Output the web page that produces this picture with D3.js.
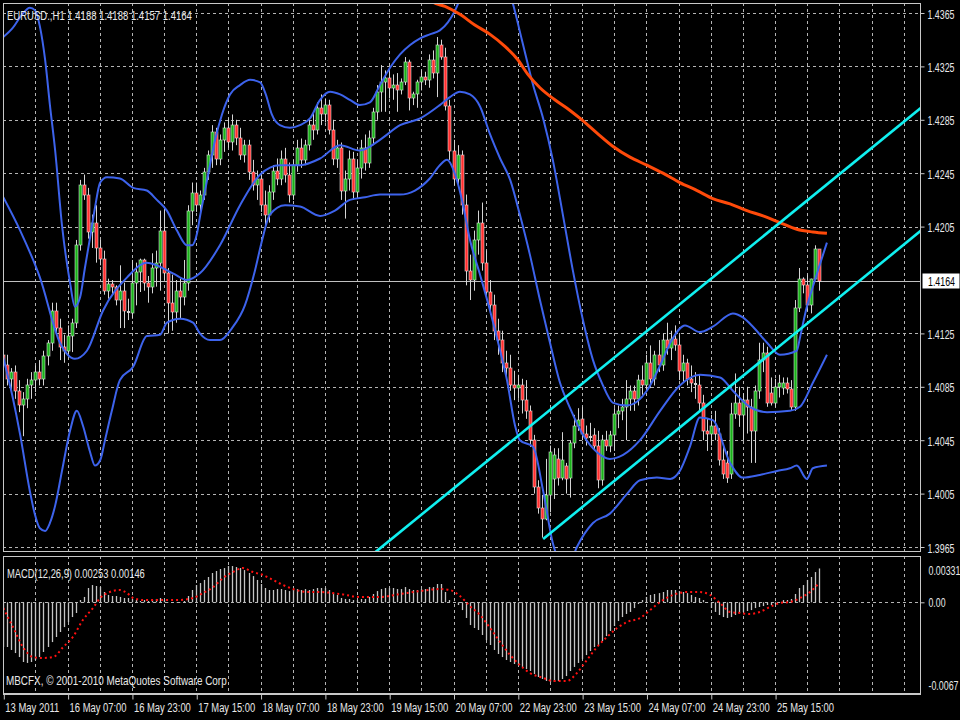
<!DOCTYPE html>
<html><head><meta charset="utf-8">
<script src="https://cdn.jsdelivr.net/npm/d3@7"></script>
<style>html,body{margin:0;padding:0;background:#000;}svg{display:block;}</style>
</head><body>
<svg id="c" width="960" height="720"></svg>
<script>
// ---------------- DATA ----------------
const symbolTitle = "EURUSD.,H1  1.4188 1.4188 1.4157 1.4164";
const macdTitle = "MACD(12,26,9) 0.00253 0.00146";
const copyright = "MBCFX, \u00A9 2001-2010 MetaQuotes Software Corp";
const timeLabels = ["13 May 2011","16 May 07:00","16 May 23:00","17 May 15:00","18 May 07:00","18 May 23:00","19 May 15:00","20 May 07:00","22 May 23:00","23 May 15:00","24 May 07:00","24 May 23:00","25 May 15:00"];
const priceTicks = [1.4365,1.4325,1.4285,1.4245,1.4205,1.4125,1.4085,1.4045,1.4005,1.3965];
const bidPrice = 1.4164;
const macdTicks = [0.00331, 0, -0.0067];
const macdTickLabels = ["0.00331","0.00","-0.0067"];

// [open, high, low, close] per H1 bar
const candles = [
[1.4109,1.4116,1.4096,1.4101],[1.4101,1.4109,1.4086,1.4091],[1.4091,1.4099,1.4081,1.4096],[1.4096,1.4101,1.4076,1.4082],
[1.4082,1.4090,1.4066,1.4071],[1.4071,1.4081,1.4048,1.4076],[1.4076,1.4091,1.4069,1.4086],[1.4086,1.4096,1.4076,1.4090],
[1.4090,1.4101,1.4081,1.4096],[1.4096,1.4105,1.4086,1.4091],[1.4091,1.4112,1.4086,1.4108],[1.4108,1.4120,1.4101,1.4118],
[1.4118,1.4148,1.4112,1.4142],[1.4142,1.4148,1.4124,1.4129],[1.4129,1.4136,1.4105,1.4115],[1.4115,1.4124,1.4103,1.4112],
[1.4112,1.4131,1.4108,1.4123],[1.4123,1.4136,1.4111,1.4133],[1.4133,1.4195,1.4129,1.4191],[1.4191,1.4240,1.4187,1.4236],
[1.4236,1.4244,1.4225,1.4229],[1.4229,1.4234,1.4196,1.4201],[1.4201,1.4214,1.4189,1.4208],[1.4208,1.4221,1.4178,1.4189],
[1.4189,1.4195,1.4176,1.4181],[1.4181,1.4187,1.4154,1.4157],[1.4157,1.4166,1.4151,1.4162],[1.4162,1.4165,1.4154,1.4160],
[1.4160,1.4161,1.4146,1.4150],[1.4150,1.4176,1.4129,1.4157],[1.4157,1.4163,1.4129,1.4142],[1.4142,1.4151,1.4135,1.4140],
[1.4140,1.4180,1.4136,1.4163],[1.4163,1.4178,1.4146,1.4171],[1.4171,1.4181,1.4156,1.4180],[1.4180,1.4181,1.4157,1.4163],
[1.4163,1.4168,1.4148,1.4160],[1.4160,1.4185,1.4155,1.4174],[1.4174,1.4187,1.4160,1.4178],[1.4178,1.4217,1.4157,1.4202],
[1.4202,1.4220,1.4165,1.4170],[1.4170,1.4174,1.4125,1.4148],[1.4148,1.4169,1.4127,1.4141],[1.4141,1.4165,1.4133,1.4157],
[1.4157,1.4166,1.4136,1.4152],[1.4152,1.4180,1.4146,1.4163],[1.4163,1.4221,1.4157,1.4217],[1.4217,1.4238,1.4206,1.4230],
[1.4230,1.4238,1.4216,1.4221],[1.4221,1.4232,1.4216,1.4229],[1.4229,1.4249,1.4225,1.4246],[1.4246,1.4262,1.4240,1.4259],
[1.4259,1.4281,1.4249,1.4276],[1.4276,1.4279,1.4251,1.4256],[1.4256,1.4274,1.4251,1.4270],[1.4270,1.4283,1.4261,1.4279],
[1.4279,1.4286,1.4264,1.4268],[1.4268,1.4289,1.4262,1.4281],[1.4281,1.4285,1.4266,1.4271],[1.4271,1.4279,1.4255,1.4259],
[1.4259,1.4270,1.4253,1.4266],[1.4266,1.4270,1.4240,1.4246],[1.4246,1.4255,1.4232,1.4236],[1.4236,1.4247,1.4225,1.4241],
[1.4241,1.4246,1.4216,1.4221],[1.4221,1.4232,1.4204,1.4214],[1.4214,1.4236,1.4208,1.4231],[1.4231,1.4251,1.4225,1.4247],
[1.4247,1.4256,1.4236,1.4241],[1.4241,1.4262,1.4236,1.4256],[1.4256,1.4264,1.4238,1.4244],[1.4244,1.4253,1.4223,1.4229],
[1.4229,1.4255,1.4225,1.4251],[1.4251,1.4270,1.4246,1.4264],[1.4264,1.4271,1.4249,1.4255],[1.4255,1.4270,1.4251,1.4266],
[1.4266,1.4286,1.4262,1.4281],[1.4281,1.4291,1.4270,1.4277],[1.4277,1.4298,1.4274,1.4294],[1.4294,1.4304,1.4281,1.4289],
[1.4289,1.4301,1.4283,1.4296],[1.4296,1.4300,1.4274,1.4277],[1.4277,1.4285,1.4251,1.4256],[1.4256,1.4270,1.4249,1.4264],
[1.4264,1.4268,1.4225,1.4232],[1.4232,1.4247,1.4211,1.4241],[1.4241,1.4262,1.4232,1.4256],[1.4256,1.4261,1.4225,1.4231],
[1.4231,1.4255,1.4226,1.4249],[1.4249,1.4270,1.4241,1.4264],[1.4264,1.4274,1.4247,1.4253],[1.4253,1.4277,1.4249,1.4271],
[1.4271,1.4294,1.4266,1.4291],[1.4291,1.4311,1.4285,1.4306],[1.4306,1.4326,1.4291,1.4313],[1.4313,1.4322,1.4291,1.4316],
[1.4316,1.4321,1.4301,1.4309],[1.4309,1.4319,1.4300,1.4311],[1.4311,1.4320,1.4291,1.4307],[1.4307,1.4316,1.4304,1.4313],
[1.4313,1.4332,1.4311,1.4328],[1.4328,1.4330,1.4292,1.4301],[1.4301,1.4306,1.4296,1.4304],[1.4304,1.4315,1.4294,1.4313],
[1.4313,1.4322,1.4307,1.4317],[1.4317,1.4321,1.4311,1.4315],[1.4315,1.4334,1.4309,1.4330],[1.4330,1.4337,1.4316,1.4320],
[1.4320,1.4347,1.4302,1.4341],[1.4341,1.4345,1.4330,1.4332],[1.4332,1.4339,1.4292,1.4295],[1.4295,1.4300,1.4255,1.4262],
[1.4262,1.4270,1.4236,1.4241],[1.4241,1.4266,1.4236,1.4259],[1.4259,1.4262,1.4214,1.4221],[1.4221,1.4229,1.4161,1.4172],
[1.4172,1.4184,1.4150,1.4165],[1.4165,1.4202,1.4157,1.4195],[1.4195,1.4217,1.4184,1.4208],[1.4208,1.4223,1.4172,1.4178],
[1.4178,1.4187,1.4150,1.4156],[1.4156,1.4165,1.4139,1.4146],[1.4146,1.4154,1.4120,1.4127],[1.4127,1.4136,1.4109,1.4120],
[1.4120,1.4127,1.4096,1.4103],[1.4103,1.4112,1.4090,1.4099],[1.4099,1.4109,1.4082,1.4086],[1.4086,1.4097,1.4075,1.4084],
[1.4084,1.4094,1.4076,1.4086],[1.4086,1.4091,1.4065,1.4075],[1.4075,1.4090,1.4061,1.4067],[1.4067,1.4071,1.4040,1.4045],
[1.4045,1.4049,1.4005,1.4010],[1.4010,1.4015,1.3990,1.3994],[1.3994,1.4004,1.3972,1.3986],[1.3986,1.4031,1.3985,1.4004],
[1.4004,1.4041,1.3991,1.4036],[1.4016,1.4039,1.4001,1.4034],[1.4031,1.4039,1.4011,1.4017],[1.4017,1.4051,1.4015,1.4030],
[1.4026,1.4028,1.4005,1.4016],[1.4017,1.4045,1.4002,1.4043],[1.4043,1.4064,1.4039,1.4056],[1.4056,1.4069,1.4052,1.4060],
[1.4061,1.4070,1.4045,1.4050],[1.4050,1.4056,1.4041,1.4047],[1.4047,1.4058,1.4044,1.4048],[1.4049,1.4054,1.4037,1.4041],
[1.4041,1.4052,1.4009,1.4015],[1.4015,1.4049,1.4011,1.4045],[1.4045,1.4052,1.4037,1.4041],[1.4041,1.4052,1.4036,1.4049],
[1.4049,1.4069,1.4037,1.4065],[1.4065,1.4071,1.4054,1.4067],[1.4067,1.4076,1.4060,1.4070],[1.4070,1.4090,1.4045,1.4076],
[1.4076,1.4086,1.4067,1.4082],[1.4082,1.4086,1.4067,1.4076],[1.4076,1.4094,1.4071,1.4090],[1.4090,1.4101,1.4079,1.4086],
[1.4086,1.4109,1.4081,1.4103],[1.4103,1.4116,1.4084,1.4091],[1.4091,1.4112,1.4086,1.4109],[1.4109,1.4120,1.4096,1.4101],
[1.4101,1.4125,1.4097,1.4120],[1.4120,1.4133,1.4109,1.4114],[1.4114,1.4127,1.4105,1.4121],[1.4121,1.4131,1.4112,1.4116],
[1.4116,1.4124,1.4090,1.4097],[1.4097,1.4109,1.4088,1.4103],[1.4103,1.4106,1.4086,1.4091],[1.4091,1.4101,1.4081,1.4088],
[1.4088,1.4096,1.4076,1.4086],[1.4086,1.4094,1.4067,1.4073],[1.4073,1.4079,1.4045,1.4052],[1.4052,1.4061,1.4037,1.4050],
[1.4050,1.4064,1.4041,1.4056],[1.4056,1.4067,1.4045,1.4050],[1.4050,1.4054,1.4026,1.4030],[1.4030,1.4041,1.4016,1.4020],
[1.4028,1.4037,1.4013,1.4017],[1.4020,1.4073,1.4016,1.4065],[1.4065,1.4095,1.4061,1.4073],[1.4073,1.4085,1.4055,1.4064],
[1.4064,1.4080,1.4045,1.4075],[1.4075,1.4085,1.4050,1.4070],[1.4070,1.4076,1.4028,1.4052],[1.4052,1.4086,1.4028,1.4082],
[1.4082,1.4118,1.4076,1.4105],[1.4105,1.4118,1.4096,1.4110],[1.4110,1.4115,1.4070,1.4073],[1.4080,1.4092,1.4071,1.4073],
[1.4073,1.4091,1.4070,1.4085],[1.4085,1.4094,1.4077,1.4088],[1.4084,1.4092,1.4079,1.4088],[1.4088,1.4092,1.4080,1.4083],
[1.4083,1.4090,1.4067,1.4070],[1.4070,1.4150,1.4067,1.4144],[1.4144,1.4174,1.4141,1.4166],[1.4166,1.4167,1.4155,1.4161],
[1.4161,1.4169,1.4142,1.4146],[1.4146,1.4166,1.4140,1.4166],[1.4166,1.4191,1.4165,1.4188],[1.4188,1.4188,1.4157,1.4164]
];

// MACD main (histogram) per bar
const macdHist = [
-0.00334,-0.00334,-0.00356,-0.00379,-0.00409,-0.00446,-0.00453,-0.00446,-0.00431,-0.00409,
-0.00371,-0.00334,-0.00297,-0.00259,-0.00222,-0.00185,-0.00147,-0.00110,-0.00080,0.00017,
0.00040,0.00107,0.00129,0.00122,0.00114,0.00077,0.00055,0.00047,0.00047,0.00040,
0.00032,0.00032,0.00025,0.00017,0.00010,0.00017,0.00010,0.00017,0.00025,0.00032,
0.00017,0.00002,-0.00005,0.00002,0.00002,0.00010,0.00047,0.00092,0.00129,0.00144,
0.00167,0.00189,0.00219,0.00234,0.00249,0.00256,0.00271,0.00271,0.00264,0.00256,
0.00241,0.00219,0.00196,0.00167,0.00137,0.00107,0.00092,0.00092,0.00099,0.00099,
0.00092,0.00084,0.00092,0.00099,0.00092,0.00099,0.00092,0.00099,0.00107,0.00107,
0.00107,0.00092,0.00069,0.00055,0.00032,0.00025,0.00025,0.00017,0.00017,0.00025,
0.00025,0.00040,0.00062,0.00084,0.00099,0.00107,0.00107,0.00107,0.00099,0.00099,
0.00114,0.00099,0.00092,0.00092,0.00099,0.00099,0.00114,0.00114,0.00137,0.00137,
0.00077,0.00017,-0.00005,-0.00020,-0.00058,-0.00117,-0.00170,-0.00192,-0.00207,-0.00244,
-0.00282,-0.00319,-0.00356,-0.00386,-0.00409,-0.00431,-0.00446,-0.00461,-0.00468,-0.00483,
-0.00498,-0.00513,-0.00536,-0.00558,-0.00573,-0.00588,-0.00595,-0.00595,-0.00588,-0.00573,
-0.00551,-0.00513,-0.00483,-0.00453,-0.00424,-0.00394,-0.00364,-0.00334,-0.00319,-0.00289,
-0.00252,-0.00214,-0.00177,-0.00140,-0.00110,-0.00087,-0.00072,-0.00043,-0.00013,0.00017,
0.00040,0.00055,0.00062,0.00069,0.00077,0.00092,0.00092,0.00092,0.00084,0.00077,
0.00069,0.00055,0.00040,0.00032,0.00017,-0.00005,-0.00043,-0.00072,-0.00095,-0.00110,
-0.00117,-0.00110,-0.00095,-0.00080,-0.00072,-0.00065,-0.00058,-0.00043,-0.00035,-0.00028,
-0.00020,-0.00020,-0.00013,-0.00005,0.00017,0.00017,0.00025,0.00062,0.00107,0.00129,
0.00167,0.00189,0.00226,0.00253
];

// MACD signal line, read as [bar, value]
const macdSignal = [
[0,-0.00043],[2.4,-0.00185],[4.9,-0.00334],[7.4,-0.00409],[9.9,-0.00416],[12.4,-0.00409],[14.9,-0.00334],
[17.3,-0.00259],[19.8,-0.00132],[22.3,-0.00043],[24.1,0.00032],[26.5,0.00077],[29.0,0.00092],[30.8,0.00069],
[32.3,0.00032],[34.8,0.00017],[38.2,0.00017],[43.2,0.00017],[47.2,0.00032],[49.7,0.00069],[52.2,0.00114],
[54.7,0.00182],[57.1,0.00226],[59.6,0.00256],[62.1,0.00226],[64.6,0.00204],[67.1,0.00167],[69.6,0.00129],
[72.1,0.00099],[75.5,0.00077],[78.8,0.00077],[83.8,0.00062],[88.7,0.00040],[93.7,0.00040],[98.7,0.00062],
[103.7,0.00084],[108.6,0.00099],[111.1,0.00092],[113.6,0.00047],[116.1,-0.00028],[118.6,-0.00095],
[121.1,-0.00192],[123.6,-0.00297],[126.1,-0.00394],[128.5,-0.00468],[131.0,-0.00528],[134.3,-0.00565],
[136.7,-0.00588],[140.2,-0.00588],[142.7,-0.00528],[145.2,-0.00431],[147.7,-0.00334],[150.2,-0.00259],
[152.7,-0.00192],[155.2,-0.00147],[158.4,-0.00117],[160.9,-0.00058],[163.4,0.00002],[166.6,0.00055],
[170.1,0.00077],[173.3,0.00077],[175.8,0.00055],[178.3,-0.00005],[180.8,-0.00072],[183.3,-0.00080],
[185.7,-0.00087],[188.2,-0.00072],[190.7,-0.00035],[193.2,-0.00005],[195.7,0.00002],[198.2,0.00032],
[200.7,0.00077],[203,0.00146]
];

// Bollinger bands, read as [bar, price]
const bbUpper = [
[0,1.4347],[2.4,1.4354],[4.7,1.4364],[6.6,1.4369],[7.9,1.4367],[9.1,1.4355],[10.4,1.4330],[11.6,1.4296],
[12.9,1.4262],[14.6,1.4206],[16.6,1.4163],[17.8,1.4145],[19.1,1.4152],[20.3,1.4174],[21.6,1.4197],[22.8,1.4219],
[24.1,1.4238],[25.8,1.4242],[29.0,1.4241],[32.3,1.4234],[35.7,1.4232],[38.2,1.4225],[40.7,1.4217],[43.2,1.4202],
[45.7,1.4191],[46.9,1.4191],[48.2,1.4200],[48.9,1.4212],[50.2,1.4232],[51.4,1.4251],[52.7,1.4270],[54.4,1.4289],
[56.4,1.4304],[58.9,1.4311],[61.4,1.4315],[63.9,1.4313],[65.3,1.4304],[66.8,1.4289],[68.8,1.4281],[71.3,1.4279],
[73.8,1.4281],[76.3,1.4286],[78.8,1.4300],[81.3,1.4306],[83.8,1.4304],[86.2,1.4300],[88.7,1.4296],[91.2,1.4298],
[93.7,1.4311],[96.2,1.4324],[98.7,1.4334],[101.2,1.4341],[103.7,1.4346],[106.1,1.4349],[108.6,1.4352],[110.6,1.4358],
[112.4,1.4367],[114.1,1.4379],[117.3,1.4401],[121.1,1.4413],[124.8,1.4390],[126.5,1.4375],[129.0,1.4345],[131.8,1.4311],
[134.3,1.4286],[136.7,1.4255],[139.2,1.4214],[141.7,1.4172],[144.2,1.4135],[146.7,1.4105],[148.9,1.4088],[151.7,1.4073],
[155.2,1.4071],[160.1,1.4082],[163.4,1.4101],[166.3,1.4120],[169.6,1.4131],[173.3,1.4126],[176.5,1.4130],[181.5,1.4140],
[184.0,1.4137],[186.5,1.4130],[190.0,1.4118],[193.2,1.4109],[197.4,1.4112],[198.2,1.4122],[199.9,1.4145],[201.4,1.4160],
[204.9,1.4193]
];
const bbMiddle = [
[0,1.4227],[4.2,1.4202],[9.1,1.4167],[14.1,1.4118],[17.8,1.4106],[20.8,1.4112],[24.8,1.4142],[30.8,1.4167],
[35.7,1.4178],[42.2,1.4170],[45.7,1.4165],[48.9,1.4170],[53.9,1.4191],[58.9,1.4221],[63.9,1.4244],[68.8,1.4251],
[73.8,1.4251],[78.8,1.4256],[83.8,1.4266],[88.7,1.4262],[93.7,1.4270],[98.7,1.4281],[103.7,1.4286],[108.6,1.4296],
[111.1,1.4302],[113.6,1.4306],[116.1,1.4304],[118.6,1.4295],[121.1,1.4274],[123.6,1.4256],[126.1,1.4240],[128.5,1.4214],
[131.0,1.4184],[133.5,1.4150],[136.0,1.4118],[138.5,1.4088],[141.0,1.4069],[144.2,1.4049],[147.7,1.4036],[150.9,1.4031],
[154.2,1.4034],[158.4,1.4045],[163.4,1.4067],[168.3,1.4086],[173.3,1.4094],[178.3,1.4092],[181.5,1.4082],[185.7,1.4070],
[190.0,1.4066],[195.7,1.4067],[198.2,1.4070],[201.4,1.4088],[204.9,1.4109]
];
const bbLower = [
[0,1.4107],[2.2,1.4079],[4.2,1.4049],[6.6,1.4007],[7.9,1.3989],[9.1,1.3979],[10.4,1.3977],[11.6,1.3983],
[12.9,1.3996],[14.6,1.4022],[16.6,1.4052],[18.3,1.4067],[19.8,1.4056],[21.6,1.4036],[22.8,1.4026],[24.1,1.4030],
[25.3,1.4045],[27.0,1.4067],[29.0,1.4090],[32.3,1.4100],[35.7,1.4123],[39.0,1.4124],[40.7,1.4133],[44.0,1.4136],
[47.2,1.4133],[48.9,1.4125],[51.4,1.4120],[53.9,1.4120],[56.9,1.4129],[60.1,1.4146],[62.6,1.4172],[64.4,1.4195],
[66.3,1.4214],[70.1,1.4221],[73.8,1.4220],[78.8,1.4213],[82.5,1.4217],[86.2,1.4225],[90.0,1.4227],[93.7,1.4229],
[98.7,1.4229],[102.4,1.4232],[106.1,1.4241],[108.6,1.4251],[110.4,1.4255],[112.4,1.4244],[114.1,1.4225],[116.1,1.4195],
[118.6,1.4169],[121.1,1.4142],[123.6,1.4112],[125.3,1.4090],[127.3,1.4056],[128.5,1.4045],[131.8,1.4040],[134.3,1.4007],
[136.7,1.3968],[138.5,1.3953],[140.2,1.3947],[142.7,1.3965],[146.7,1.3983],[150.9,1.3990],[155.2,1.4005],[158.4,1.4015],
[162.6,1.4017],[165.9,1.4016],[168.3,1.4022],[170.8,1.4040],[173.3,1.4062],[176.5,1.4060],[180.8,1.4028],[184.0,1.4017],
[188.2,1.4019],[192.5,1.4022],[195.7,1.4024],[197.4,1.4026],[199.9,1.4016],[201.4,1.4024],[204.9,1.4026]
];
// long moving average (orange), read as [bar, price]
const movingAvg = [
[103.7,1.4383],[106.9,1.4373],[109.9,1.4370],[113.6,1.4364],[117.3,1.4356],[121.1,1.4349],[124.8,1.4340],
[128.0,1.4330],[130.5,1.4319],[133.5,1.4309],[137.2,1.4300],[141.0,1.4292],[143.5,1.4286],[147.7,1.4275],
[151.7,1.4265],[155.9,1.4257],[160.1,1.4251],[164.1,1.4245],[168.3,1.4238],[172.6,1.4232],[176.5,1.4226],
[180.8,1.4222],[185.0,1.4217],[189.0,1.4213],[193.2,1.4208],[197.4,1.4203],[201.4,1.4201],[204.9,1.4200]
];
// channel trend lines, [bar, price] end points
const channelUpper = [[92.5,1.3961],[228.3,1.4294]];
const channelLower = [[134.3,1.3971],[228.3,1.4202]];

// ---------------- DRAW ----------------
const W = 960, H = 720;
const L = 3, R = 921, T = 3, B = 552, MT = 556, MB = 694;
const FONT = "'Liberation Sans', Arial, sans-serif";
const GRID = "#b4b4b4", FRAME = "#c8c8c8", TXT = "#e8e8e8";

const svg = d3.select("#c");
svg.append("rect").attr("width", W).attr("height", H).attr("fill", "#000");

const x = d3.scaleLinear().domain([0, 228.3]).range([3.3, 921]);
const y = d3.scaleLinear().domain([1.3965, 1.4365]).range([547, 13]);
const ym = d3.scaleLinear().domain([-0.0067, 0.00331]).range([692, 558]);
const px = v => Math.round(v) + 0.5;

// horizontally squeeze a text to a target width (narrow terminal font look)
function squeeze(sel, target) {
  sel.each(function (d, i) {
    const t = d3.select(this);
    const w = this.getComputedTextLength();
    const tw = typeof target === "function" ? target(d, i) : target;
    const k = Math.min(1, tw / w);
    const x0 = +(t.attr("x") || 0);
    t.attr("x", x0 / k).attr("transform", `scale(${k},1)`);
  });
}
function label(txt, x0, y0, w, fill) {
  const t = svg.append("text").attr("x", x0).attr("y", y0).text(txt)
    .attr("fill", fill || TXT).style("font-family", FONT).style("font-size", "12px");
  squeeze(t, w);
  return t;
}

const defs = svg.append("defs");
defs.append("clipPath").attr("id", "clipMain").append("rect").attr("x", L).attr("y", T).attr("width", R - L).attr("height", B - T);
defs.append("clipPath").attr("id", "clipMacd").append("rect").attr("x", L).attr("y", MT).attr("width", R - L).attr("height", MB - MT);

const gridBars = d3.range(8, 229, 8);

// main grid
const gMain = svg.append("g").attr("clip-path", "url(#clipMain)");
gMain.selectAll("line.vg").data(gridBars).join("line").attr("class", "vg")
  .attr("x1", d => px(x(d))).attr("x2", d => px(x(d))).attr("y1", T).attr("y2", B)
  .attr("stroke", GRID).attr("stroke-dasharray", "3,3");
gMain.selectAll("line.hg").data(priceTicks).join("line").attr("class", "hg")
  .attr("x1", L).attr("x2", R).attr("y1", d => px(y(d))).attr("y2", d => px(y(d)))
  .attr("stroke", GRID).attr("stroke-dasharray", "3,3");
// bid line
gMain.append("line").attr("x1", L).attr("x2", R).attr("y1", px(y(bidPrice))).attr("y2", px(y(bidPrice)))
  .attr("stroke", "#c0c0c0");

// candles
const gC = gMain.append("g");
candles.forEach((c, i) => {
  const [o, h, l, cl] = c;
  const cx = px(x(i));
  const col = cl >= o ? "#19b019" : "#ff2e2e";
  gC.append("line").attr("x1", cx).attr("x2", cx).attr("y1", y(h)).attr("y2", y(l))
    .attr("stroke", "#d4d4d4").attr("stroke-width", 1);
  const top = Math.round(y(Math.max(o, cl)));
  const bot = Math.round(y(Math.min(o, cl)));
  const hgt = Math.max(1, bot - top);
  if (hgt <= 2) {
    gC.append("rect").attr("x", cx - 1.5).attr("y", top).attr("width", 3).attr("height", hgt).attr("fill", "#d4d4d4");
  } else {
    gC.append("rect").attr("x", cx - 1.5).attr("y", top).attr("width", 3).attr("height", hgt).attr("fill", col);
    gC.append("rect").attr("x", cx - 1.5).attr("y", top).attr("width", 3).attr("height", hgt)
      .attr("fill", "none").attr("stroke", "#ffffff").attr("stroke-opacity", 0.55).attr("stroke-width", 0.9);
  }
});

// indicator lines
const lineP = d3.line().x(d => x(d[0])).y(d => y(d[1])).curve(d3.curveMonotoneX);
[bbUpper, bbMiddle, bbLower].forEach(arr => {
  gMain.append("path").attr("d", lineP(arr)).attr("fill", "none").attr("stroke", "#3d63ec").attr("stroke-width", 2);
});
gMain.append("path").attr("d", lineP(movingAvg)).attr("fill", "none").attr("stroke", "#ff4a0a").attr("stroke-width", 3);
const lineS = d3.line().x(d => x(d[0])).y(d => y(d[1]));
[channelUpper, channelLower].forEach(arr => {
  gMain.append("path").attr("d", lineS(arr)).attr("fill", "none").attr("stroke", "#10f0f0").attr("stroke-width", 2.6);
});

// MACD panel
const gM = svg.append("g").attr("clip-path", "url(#clipMacd)");
gM.selectAll("line.vg").data(gridBars).join("line").attr("class", "vg")
  .attr("x1", d => px(x(d))).attr("x2", d => px(x(d))).attr("y1", MT).attr("y2", MB)
  .attr("stroke", GRID).attr("stroke-dasharray", "3,3");
gM.append("line").attr("x1", L).attr("x2", R).attr("y1", px(ym(0))).attr("y2", px(ym(0)))
  .attr("stroke", GRID).attr("stroke-dasharray", "3,3");
gM.selectAll("line.hb").data(macdHist).join("line").attr("class", "hb")
  .attr("x1", (d, i) => px(x(i))).attr("x2", (d, i) => px(x(i)))
  .attr("y1", ym(0)).attr("y2", d => ym(d))
  .attr("stroke", "#c4c4c4").attr("stroke-width", 1.3);
const lineM = d3.line().x(d => x(d[0])).y(d => ym(d[1])).curve(d3.curveMonotoneX);
gM.append("path").attr("d", lineM(macdSignal)).attr("fill", "none").attr("stroke", "#ff1010")
  .attr("stroke-width", 2).attr("stroke-dasharray", "2,3");

// frames
svg.append("rect").attr("x", L + 0.5).attr("y", T + 0.5).attr("width", R - L - 1).attr("height", B - T - 1)
  .attr("fill", "none").attr("stroke", FRAME);
svg.append("rect").attr("x", L + 0.5).attr("y", MT + 0.5).attr("width", R - L - 1).attr("height", MB - MT - 1)
  .attr("fill", "none").attr("stroke", FRAME);

function styleAxis(g) {
  g.select(".domain").remove();
  g.selectAll(".tick line").attr("stroke", FRAME);
  g.selectAll(".tick text").attr("fill", TXT).style("font-family", FONT).style("font-size", "12px");
}

// price axis
const ay = svg.append("g").attr("transform", `translate(${R - 0.5},0)`)
  .call(d3.axisRight(y).tickValues(priceTicks).tickSize(4).tickPadding(3).tickFormat(d3.format(".4f")));
styleAxis(ay);
ay.selectAll(".tick text").attr("dy", "0.42em");
squeeze(ay.selectAll(".tick text"), 27);

// bid label
svg.append("rect").attr("x", 922.5).attr("y", px(y(bidPrice)) - 8).attr("width", 37).attr("height", 15)
  .attr("fill", "#ffffff");
label(bidPrice.toFixed(4), 928, px(y(bidPrice)) + 4.5, 27, "#000");

// MACD axis
const am = svg.append("g").attr("transform", `translate(${R - 0.5},0)`)
  .call(d3.axisRight(ym).tickValues(macdTicks).tickSize(4).tickPadding(4).tickFormat((d, i) => macdTickLabels[i]));
styleAxis(am);
const macdDy = [17, 4.5, -3], macdLen = [32, 17, 30];
am.selectAll(".tick text").attr("dy", (d, i) => macdDy[i]);
squeeze(am.selectAll(".tick text"), (d, i) => macdLen[i]);
am.selectAll(".tick line").attr("opacity", (d, i) => i === 1 ? 1 : 0);

// time axis
const ax = svg.append("g").attr("transform", `translate(0,${MB - 0.5})`)
  .call(d3.axisBottom(x).tickValues(d3.range(0, 193, 16)).tickSize(6).tickPadding(3).tickFormat((d, i) => timeLabels[i]));
styleAxis(ax);
ax.selectAll(".tick line").attr("transform", "translate(0.5,0)");
ax.selectAll(".tick text").attr("text-anchor", "start").attr("x", 1.5).attr("dy", "0.82em");
squeeze(ax.selectAll(".tick text"), (d, i) => i === 0 ? 54 : 57);
svg.append("line").attr("x1", L).attr("x2", R).attr("y1", MB + 0.5).attr("y2", MB + 0.5).attr("stroke", FRAME);

// texts
label(symbolTitle, 7, 20.5, 185);
label(macdTitle, 7, 578.5, 138);
label(copyright, 6, 685, 221);
</script>
</body></html>
